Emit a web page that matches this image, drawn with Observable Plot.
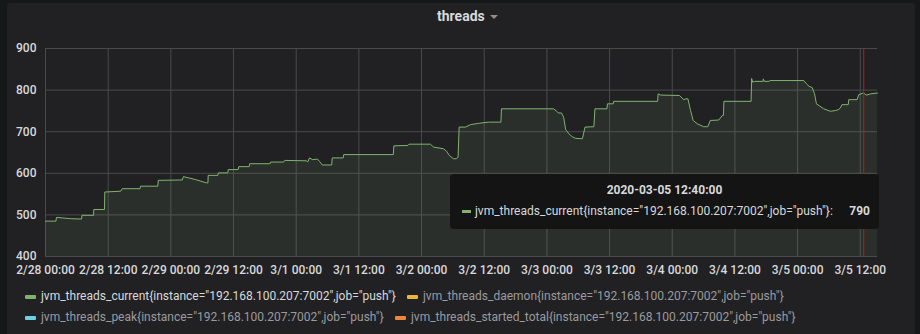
<!DOCTYPE html>
<html><head><meta charset="utf-8">
<script src="https://cdn.jsdelivr.net/npm/d3@7"></script>
<script src="https://cdn.jsdelivr.net/npm/@observablehq/plot@0.6"></script>
<style>
body{margin:0;background:#161719;font-family:Roboto,"Noto Sans",sans-serif;}
#wrap{position:relative;width:920px;height:334px;overflow:hidden;background:#161719;}
#panel{position:absolute;left:7px;top:3px;width:908px;height:340px;background:#212124;border-radius:3px;}
#title{position:absolute;left:437px;top:8px;color:#d8d9da;font-weight:bold;font-size:14px;white-space:nowrap;}
#title .caret{display:inline-block;margin-left:5px;width:0;height:0;border-left:4px solid transparent;border-right:4px solid transparent;border-top:4px solid #8e8e8e;vertical-align:middle;}
#chart{position:absolute;left:0;top:30px;}
#tip{position:absolute;left:450px;top:174px;width:429px;height:55px;background:#141414;border-radius:4px;color:#d8d9da;font-size:12px;}
#tip .t{position:absolute;left:0;width:100%;top:9px;text-align:center;font-weight:bold;}
#tip .row{position:absolute;left:12px;right:9px;top:30px;white-space:nowrap;}
#tip .sw{display:inline-block;width:9px;height:3px;background:#7EB26D;vertical-align:middle;margin-right:4px;}
#tip .v{position:absolute;right:0;top:0;font-weight:bold;}
.leg{position:absolute;font-size:12px;white-space:nowrap;color:#9a9b9d;}
.leg .sw{display:inline-block;width:11px;height:4px;vertical-align:middle;margin-right:5px;border-radius:1px;}
.leg.on{color:#d8d9da;}
</style></head>
<body><div id="wrap">
<div id="panel"></div>
<div id="title">threads<span class="caret"></span></div>
<div id="chart"></div>
<div id="tip"></div>
<div id="legend"></div>
</div>
<script>
// hours since 2020-02-28 00:00 and thread counts
const hours = [0,2.0,2.1,4.8,6.9,7.0,9.2,9.25,11.3,11.35,14.4,14.7,18.1,18.2,21.5,21.6,26.2,26.4,28.7,30.8,31.1,31.15,33.0,33.1,34.9,35.0,36.9,37.0,39.0,39.1,43.0,43.1,45.6,45.8,50.0,50.2,50.55,51.1,52.1,52.5,53.0,54.8,54.9,57.0,57.1,66.6,66.7,69.4,69.6,73.7,74.3,76.2,76.8,77.3,78.1,78.7,79.0,79.2,80.4,81.4,82.9,84.8,87.2,87.3,97.3,97.9,98.2,98.8,99.2,99.6,100.2,100.85,101.5,102.8,103.3,105.0,105.2,107.5,107.6,108.7,108.8,117.2,117.3,117.8,121.4,122.2,122.6,123.0,123.5,124.0,124.8,126.0,126.8,127.3,128.9,129.6,129.8,129.9,135.1,135.2,135.4,135.8,137.4,137.45,137.6,138.6,138.7,145.2,145.7,146.2,146.8,147.25,147.6,149.0,150.3,151.3,151.8,152.2,152.5,153.7,153.8,155.4,155.7,156.6,157.2,158.0,159.3];
const values = [485,485,494,491,490,499,499,513,513,555,557,563,563,569,569,583,584,592,585,577,577,595,595,601,601,609,609,616,616,623,623,627,627,631,630,627,637,633,634,628,620,620,637,637,645,645,666,667,670,670,663,659,653,643,635,635,639,711,711,717,720,723,723,755,755,749,745,745,735,705,695,688,684,683,711,712,755,755,767,767,773,773,791,788,787,777,779,779,751,727,719,712,712,727,728,739,739,773,773,828,819,821,821,827,821,821,823,823,815,809,806,791,767,755,749,751,753,757,765,765,777,777,789,793,788,791,793];
const yTicks = [400,500,600,700,800,900];
const seriesNames = ['jvm_threads_current{instance="192.168.100.207:7002",job="push"}','jvm_threads_daemon{instance="192.168.100.207:7002",job="push"}','jvm_threads_peak{instance="192.168.100.207:7002",job="push"}','jvm_threads_started_total{instance="192.168.100.207:7002",job="push"}'];
const seriesColors = ["#7EB26D","#EAB839","#6ED0E0","#EF843C"];
const hoverTime = "2020-03-05 12:40:00";
const hoverValue = 790;

const start = Date.UTC(2020,1,28,0,0);
const end = start + 159.3*3600e3;
const data = hours.map((h,i)=>({t:new Date(start+h*3600e3), v:values[i]}));
const hover = new Date(Date.UTC(2020,2,5,12,40));

const chart = Plot.plot({
  width:920, height:250,
  marginLeft:45, marginRight:43, marginTop:18, marginBottom:24,
  style:{background:"transparent",color:"#d8d9da",fontFamily:"Roboto, sans-serif",fontSize:"12px"},
  x:{type:"utc",domain:[new Date(start),new Date(end)],label:null},
  y:{domain:[400,900],label:null},
  marks:[
    Plot.gridY(yTicks,{stroke:"#4a4a4c",strokeOpacity:1}),
    Plot.gridX(d3.utcHour.every(12).range(new Date(start),new Date(end)),{stroke:"#4a4a4c",strokeOpacity:1}),
    Plot.areaY(data,{x:"t",y1:400,y2:"v",fill:"#7EB26D",fillOpacity:0.1}),
    Plot.lineY(data,{x:"t",y:"v",stroke:"#7EB26D",strokeWidth:1}),
    Plot.ruleX([hover],{stroke:"#c01818",strokeWidth:1}),
    Plot.axisY(yTicks,{tickSize:0,tickPadding:9,fontWeight:500}),
    Plot.axisX(d3.utcHour.every(12).range(new Date(start),new Date(end)),{tickSize:0,tickPadding:9,tickFormat:d3.utcFormat("%-m/%-d %H:%M"),fontWeight:500})
  ]
});
document.getElementById("chart").appendChild(chart);

const tip = document.getElementById("tip");
tip.innerHTML = `<div class="t">${hoverTime}</div><div class="row"><span class="sw"></span></div>`;
const row = tip.querySelector(".row");
row.appendChild(document.createTextNode(seriesNames[0]+":"));
const vv = document.createElement("span"); vv.className="v"; vv.textContent = hoverValue; row.appendChild(vv);

const legPos = [[25,289,true],[407,289,false],[25,310,false],[395,310,false]];
const leg = document.getElementById("legend");
seriesNames.forEach((n,i)=>{
  const d = document.createElement("div");
  d.className = "leg" + (legPos[i][2] ? " on" : "");
  d.style.left = legPos[i][0]+"px"; d.style.top = legPos[i][1]+"px";
  const s = document.createElement("span"); s.className="sw"; s.style.background = seriesColors[i];
  d.appendChild(s); d.appendChild(document.createTextNode(n));
  leg.appendChild(d);
});
</script>
</body></html>
